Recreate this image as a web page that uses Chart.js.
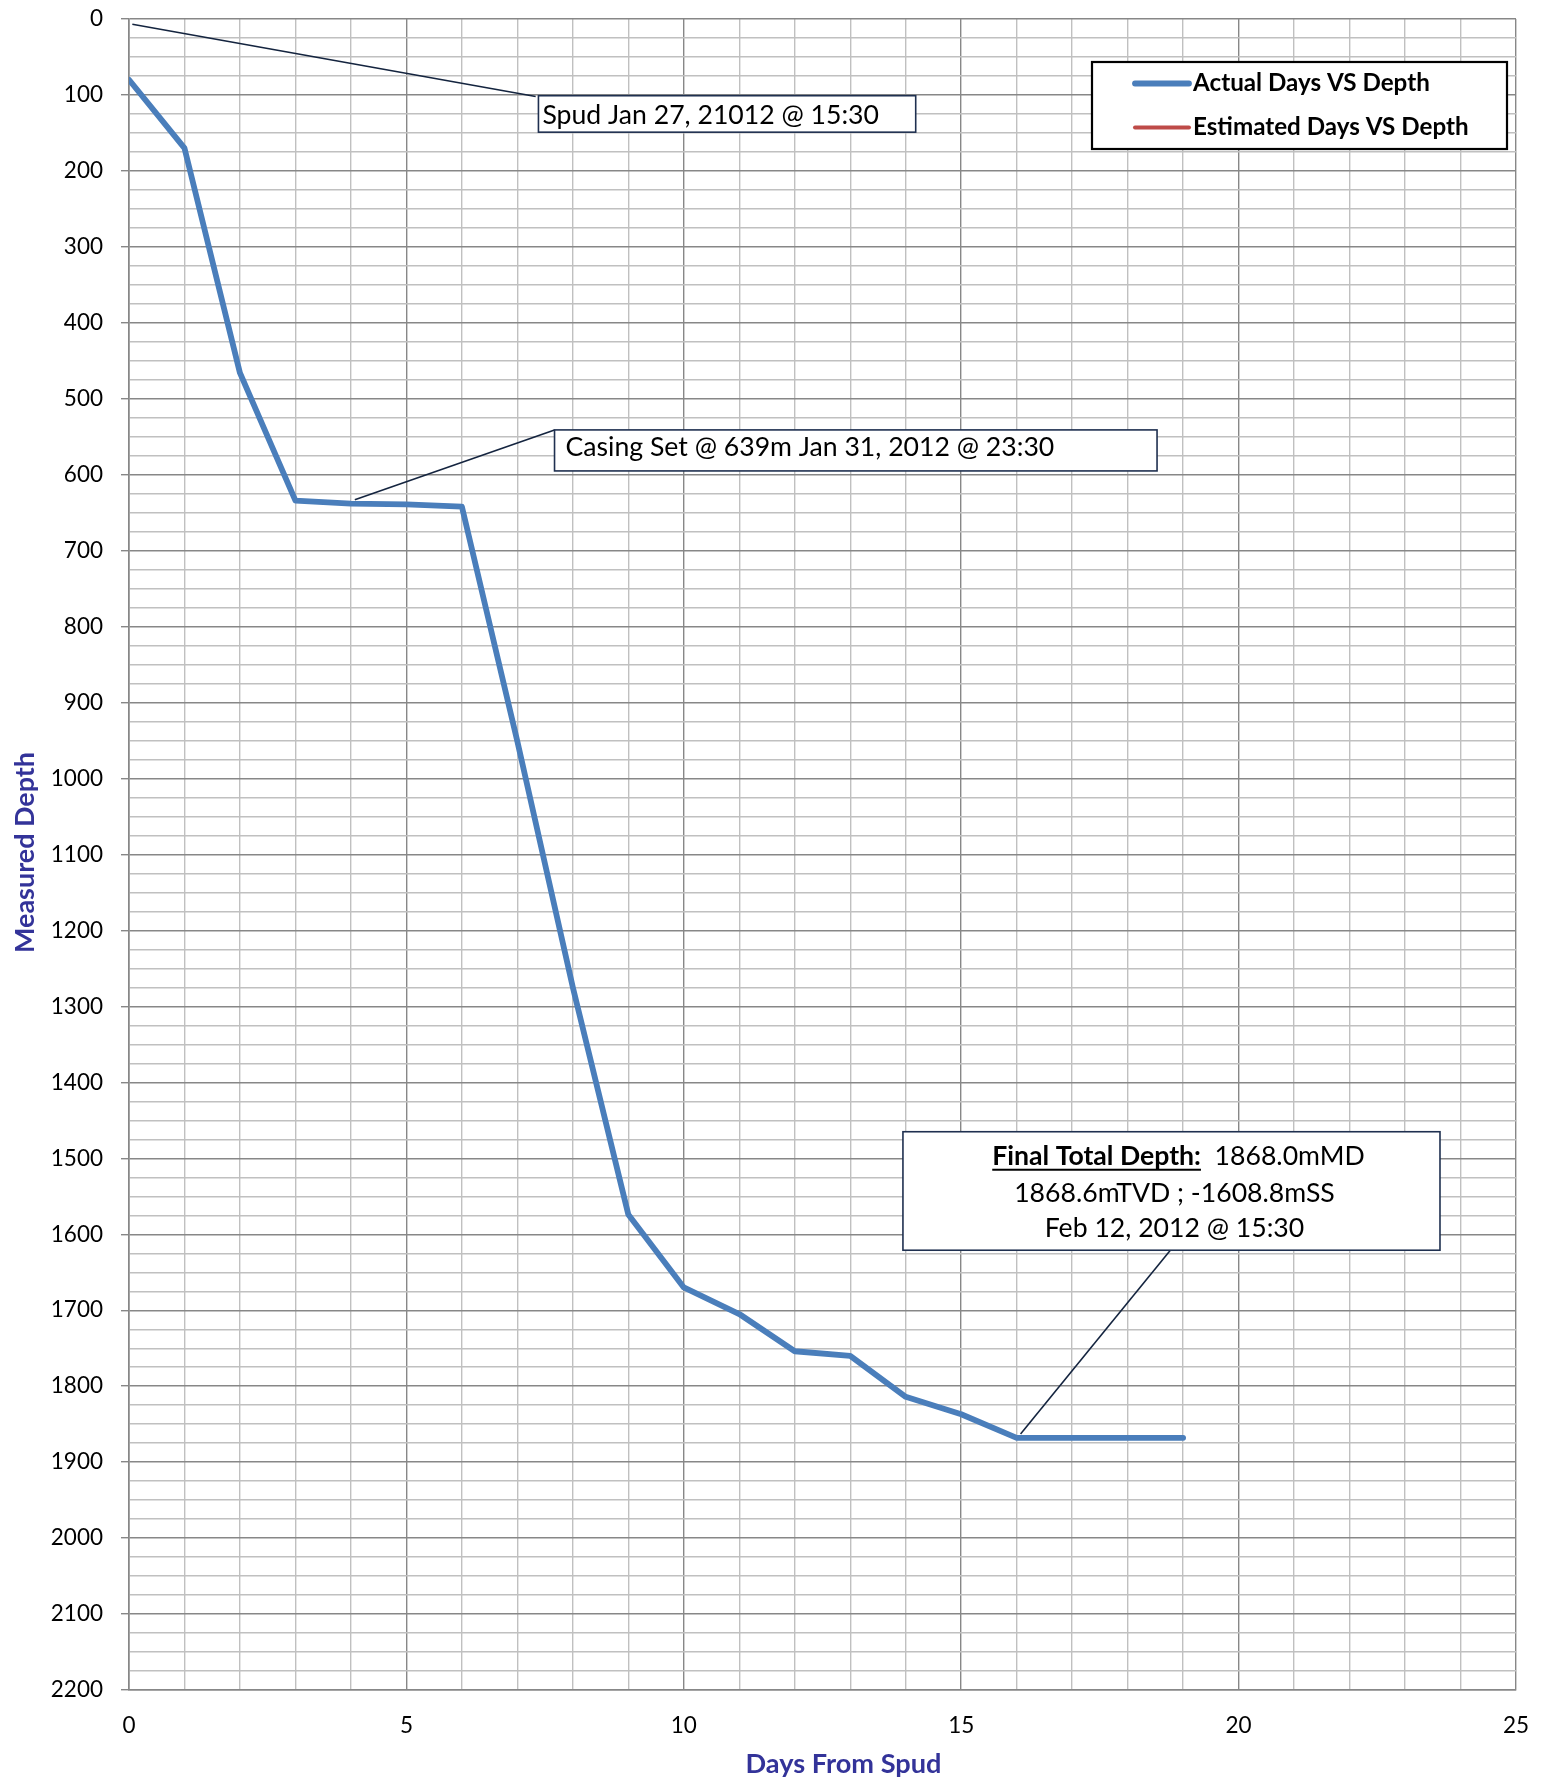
<!DOCTYPE html>
<html><head><meta charset="utf-8">
<script src="https://cdn.jsdelivr.net/npm/chart.js@4/dist/chart.umd.min.js"></script>
<style>html,body{margin:0;padding:0;background:#fff}canvas{display:block}</style>
</head><body>
<canvas id="c" width="1550" height="1782"></canvas>
<script>
// ---- data ----
const days = [0,1,2,3,4,5,6,7,8,9,10,11,12,13,14,15,16,17,18,19];
const actualDepth = [80,170,466,634,638,639,642,951,1275,1574,1670,1705,1754,1760,1814,1837,1868,1868,1868,1868];
const estimatedDays = [];
const estimatedDepth = [];
const seriesNames = ['Actual Days VS Depth','Estimated Days VS Depth'];
const xTickLabels = [0,5,10,15,20,25];
const yTickLabels = [0,100,200,300,400,500,600,700,800,900,1000,1100,1200,1300,1400,1500,1600,1700,1800,1900,2000,2100,2200];
const xTitle = 'Days From Spud';
const yTitle = 'Measured Depth';
const spudText = ['Spud Jan 27, 21012 @ 15:30'];
const casingText = ['Casing Set @ 639m Jan 31, 2012 @ 23:30'];
const finalTitle = 'Final Total Depth:';
const finalText = ['  1868.0mMD', '1868.6mTVD ; -1608.8mSS', 'Feb 12, 2012 @ 15:30'];

// annotation anchors in data units (days, depth)
const callouts = [
  {lines: spudText, box:[7.38,101,14.18,149], from:[0.06,7], to:[7.33,102], align:'left', dx:4, base:[28]},
  {lines: casingText, box:[7.67,541,18.53,595], from:[4.07,633], to:[7.67,541], align:'left', dx:11, base:[26]},
  {lines: finalText, title: finalTitle, box:[13.95,1465,23.63,1621], from:[16.07,1863], to:[18.77,1621], align:'center', dx:3, base:[33,70,105]}
];

const FONT = 'Lato';
const MAJOR = '#878787', MINOR = '#C0C0C0';

function fitSize(ctx, text, width, weight){
  ctx.font = weight + ' 100px ' + FONT;
  return 100 * width / ctx.measureText(text).width;
}

const overlay = {
  id: 'overlay',
  afterDatasetsDraw(chart){
    const ctx = chart.ctx, xs = chart.scales.x, ys = chart.scales.y, ca = chart.chartArea;
    ctx.save();
    const regSize = fitSize(ctx, casingText[0], 489, 'normal');
    // callouts
    callouts.forEach(c => {
      const x1 = xs.getPixelForValue(c.box[0]), y1 = ys.getPixelForValue(c.box[1]);
      const x2 = xs.getPixelForValue(c.box[2]), y2 = ys.getPixelForValue(c.box[3]);
      ctx.strokeStyle = '#14243F'; ctx.lineWidth = 1.6;
      ctx.beginPath();
      ctx.moveTo(xs.getPixelForValue(c.from[0]), ys.getPixelForValue(c.from[1]));
      ctx.lineTo(xs.getPixelForValue(c.to[0]), ys.getPixelForValue(c.to[1]));
      ctx.stroke();
      ctx.fillStyle = '#fff';
      ctx.fillRect(x1, y1, x2-x1, y2-y1);
      ctx.strokeStyle = '#1F3050'; ctx.lineWidth = 1.6;
      ctx.strokeRect(x1, y1, x2-x1, y2-y1);
      ctx.fillStyle = '#000'; ctx.textBaseline = 'alphabetic';
      c.lines.forEach((t, i) => {
        const y = y1 + c.base[i];
        if (c.align === 'left') {
          ctx.font = 'normal ' + regSize + 'px ' + FONT;
          ctx.textAlign = 'left';
          ctx.fillText(t, x1 + c.dx, y);
        } else if (i === 0 && c.title) {
          ctx.font = 'bold ' + regSize + 'px ' + FONT;
          const wb = ctx.measureText(c.title).width;
          ctx.font = 'normal ' + regSize + 'px ' + FONT;
          const wr = ctx.measureText(t).width;
          let sx = (x1 + x2)/2 + c.dx + 4 - (wb + wr)/2;
          ctx.textAlign = 'left';
          ctx.font = 'bold ' + regSize + 'px ' + FONT;
          ctx.fillText(c.title, sx, y);
          ctx.fillRect(sx, y + 4, wb, 2);
          ctx.font = 'normal ' + regSize + 'px ' + FONT;
          ctx.fillText(t, sx + wb, y);
        } else {
          ctx.font = 'normal ' + regSize + 'px ' + FONT;
          ctx.textAlign = 'center';
          ctx.fillText(t, (x1 + x2)/2 + c.dx, y);
        }
      });
    });
    // legend
    const lx1 = ca.right - 424, ly1 = ca.top + 43, lx2 = ca.right - 9, ly2 = ca.top + 130;
    ctx.fillStyle = '#fff'; ctx.fillRect(lx1, ly1, lx2-lx1, ly2-ly1);
    ctx.strokeStyle = '#000'; ctx.lineWidth = 2.2; ctx.strokeRect(lx1, ly1, lx2-lx1, ly2-ly1);
    const legSize = fitSize(ctx, seriesNames[0], 237, 'bold');
    chart.data.datasets.forEach((ds, i) => {
      const yy = ly1 + 21.5 + i*44;
      ctx.strokeStyle = ds.borderColor; ctx.lineWidth = ds.borderWidth; ctx.lineCap = 'round';
      ctx.beginPath(); ctx.moveTo(lx1 + 43, yy); ctx.lineTo(lx1 + 97, yy); ctx.stroke();
      ctx.fillStyle = '#000'; ctx.font = 'bold ' + legSize + 'px ' + FONT;
      ctx.textAlign = 'left'; ctx.textBaseline = 'middle';
      ctx.fillText(ds.label, lx1 + 101, yy);
    });
    // axis titles
    ctx.fillStyle = '#333399';
    const ySize = fitSize(ctx, yTitle, 201, 'bold');
    ctx.font = 'bold ' + ySize + 'px ' + FONT;
    ctx.textAlign = 'center'; ctx.textBaseline = 'middle';
    ctx.save();
    ctx.translate(25, (ca.top + ca.bottom)/2 - 2);
    ctx.rotate(-Math.PI/2);
    ctx.fillText(yTitle, 0, 0);
    ctx.restore();
    const xSize = fitSize(ctx, xTitle, 196, 'bold');
    ctx.font = 'bold ' + xSize + 'px ' + FONT;
    ctx.fillText(xTitle, (ca.left + ca.right)/2 + 21, ca.bottom + 74);
    ctx.restore();
  }
};

const isMajorX = v => xTickLabels.includes(v);
const isMajorY = v => yTickLabels.includes(v);

new Chart(document.getElementById('c'), {
  type: 'line',
  data: {
    datasets: [
      {label: seriesNames[0], data: days.map((d,i) => ({x:d, y:actualDepth[i]})),
       borderColor:'#4A7EBB', borderWidth:5.8, pointRadius:0, tension:0,
       borderJoinStyle:'round', borderCapStyle:'round', fill:false},
      {label: seriesNames[1], data: estimatedDays.map((d,i) => ({x:d, y:estimatedDepth[i]})),
       borderColor:'#BE4B48', borderWidth:4, pointRadius:0, tension:0, fill:false}
    ]
  },
  options: {
    responsive:false, animation:false, devicePixelRatio:1,
    layout:{padding:{left:0, top:19, right:34, bottom:0}},
    plugins:{legend:{display:false}, tooltip:{enabled:false}},
    scales:{
      x:{type:'linear', min:0, max:25,
         afterFit(s){ s.height = 92; s.paddingLeft = 0; s.paddingRight = 0; },
         ticks:{stepSize:1, autoSkip:false, maxRotation:0, minRotation:0, padding:22, color:'#000',
                font:{family:FONT, size:22.5}, callback:v => isMajorX(v) ? String(v) : ''},
         grid:{color:c => isMajorX(c.tick.value) ? MAJOR : MINOR, lineWidth:1.4, drawTicks:false},
         border:{color:MAJOR, width:1.6}},
      y:{type:'linear', reverse:true, min:0, max:2200,
         afterFit(s){ s.width = 129; s.paddingTop = 0; s.paddingBottom = 0; },
         ticks:{stepSize:25, autoSkip:false, padding:18, color:'#000',
                font:{family:FONT, size:22.5}, callback:v => isMajorY(v) ? String(v) : ''},
         grid:{color:c => isMajorY(c.tick.value) ? MAJOR : MINOR, lineWidth:1.4,
               tickColor:c => isMajorY(c.tick.value) ? MAJOR : 'rgba(0,0,0,0)', tickLength:8},
         border:{color:MAJOR, width:1.6}}
    }
  },
  plugins:[overlay]
});
</script>
</body></html>
